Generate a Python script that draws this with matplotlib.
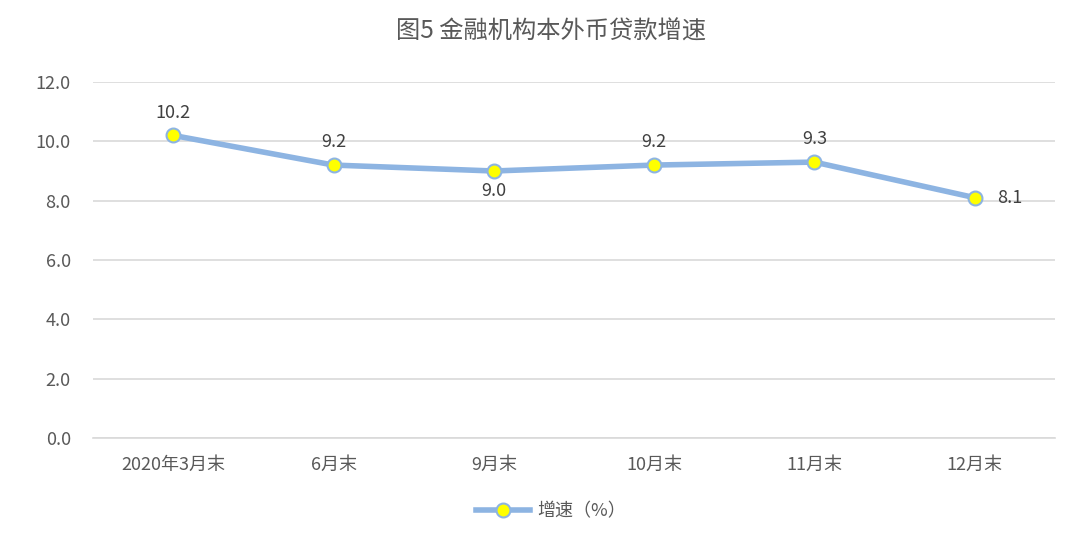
import matplotlib
matplotlib.use("Agg")
import matplotlib.pyplot as plt
from matplotlib.lines import Line2D

plt.rcParams['font.family'] = ['Noto Sans CJK SC', 'DejaVu Sans']

categories = ["2020年3月末", "6月末", "9月末", "10月末", "11月末", "12月末"]
values = [10.2, 9.2, 9.0, 9.2, 9.3, 8.1]
label_pos = ["above", "above", "below", "above", "above", "right"]
series_name = "增速（%）"
title = "图5 金融机构本外币贷款增速"
yticks = [0, 2, 4, 6, 8, 10, 12]

line_color = "#8DB4E2"
text_grey = "#595959"

fig = plt.figure(figsize=(10.8, 5.47), dpi=100)
ax = fig.add_axes([93/1080, 1-438/547, 962/1080, 356/547])

x = list(range(len(categories)))
ax.plot(x, values, color=line_color, lw=4, marker='o', markersize=10,
        markerfacecolor='#FFFF00', markeredgecolor=line_color, markeredgewidth=1.5,
        zorder=3, solid_capstyle='round')

for xi, v, p in zip(x, values, label_pos):
    if p == "above":
        ax.annotate(f"{v:.1f}", (xi, v), xytext=(0, 10), textcoords='offset points',
                    ha='center', va='bottom', fontsize=13, color='#404040')
    elif p == "below":
        ax.annotate(f"{v:.1f}", (xi, v), xytext=(0, -8), textcoords='offset points',
                    ha='center', va='top', fontsize=13, color='#404040')
    else:
        ax.annotate(f"{v:.1f}", (xi, v), xytext=(16, 0), textcoords='offset points',
                    ha='left', va='center', fontsize=13, color='#404040')

ax.set_xlim(-0.5, len(categories) - 0.5)
ax.set_ylim(0, 12)
ax.set_yticks(yticks)
ax.set_yticklabels([f"{t:.1f}" for t in yticks], fontsize=13, color=text_grey)
ax.set_xticks(x)
ax.set_xticklabels(categories, fontsize=13, color=text_grey)
ax.tick_params(axis='both', length=0)
ax.tick_params(axis='y', pad=16)
ax.tick_params(axis='x', pad=13)
ax.grid(axis='y', color='#D9D9D9', lw=1.2)
ax.set_axisbelow(True)
for s in ax.spines.values():
    s.set_visible(False)
ax.spines['bottom'].set_visible(True)
ax.spines['bottom'].set_color('#D9D9D9')
ax.spines['bottom'].set_linewidth(1.2)

fig.text(551/1080, 1-32/547, title, ha='center', va='center', fontsize=17.5, color=text_grey)

handle = Line2D([], [], color=line_color, lw=4, marker='o', markersize=10,
                markerfacecolor='#FFFF00', markeredgecolor=line_color, markeredgewidth=1.5)
fig.legend([handle], [series_name], loc='center', bbox_to_anchor=(0.51, 1-511/547),
           frameon=False, fontsize=13, labelcolor=text_grey, handlelength=3.0,
           handletextpad=0.4)

fig.savefig("out.png", dpi=100)
